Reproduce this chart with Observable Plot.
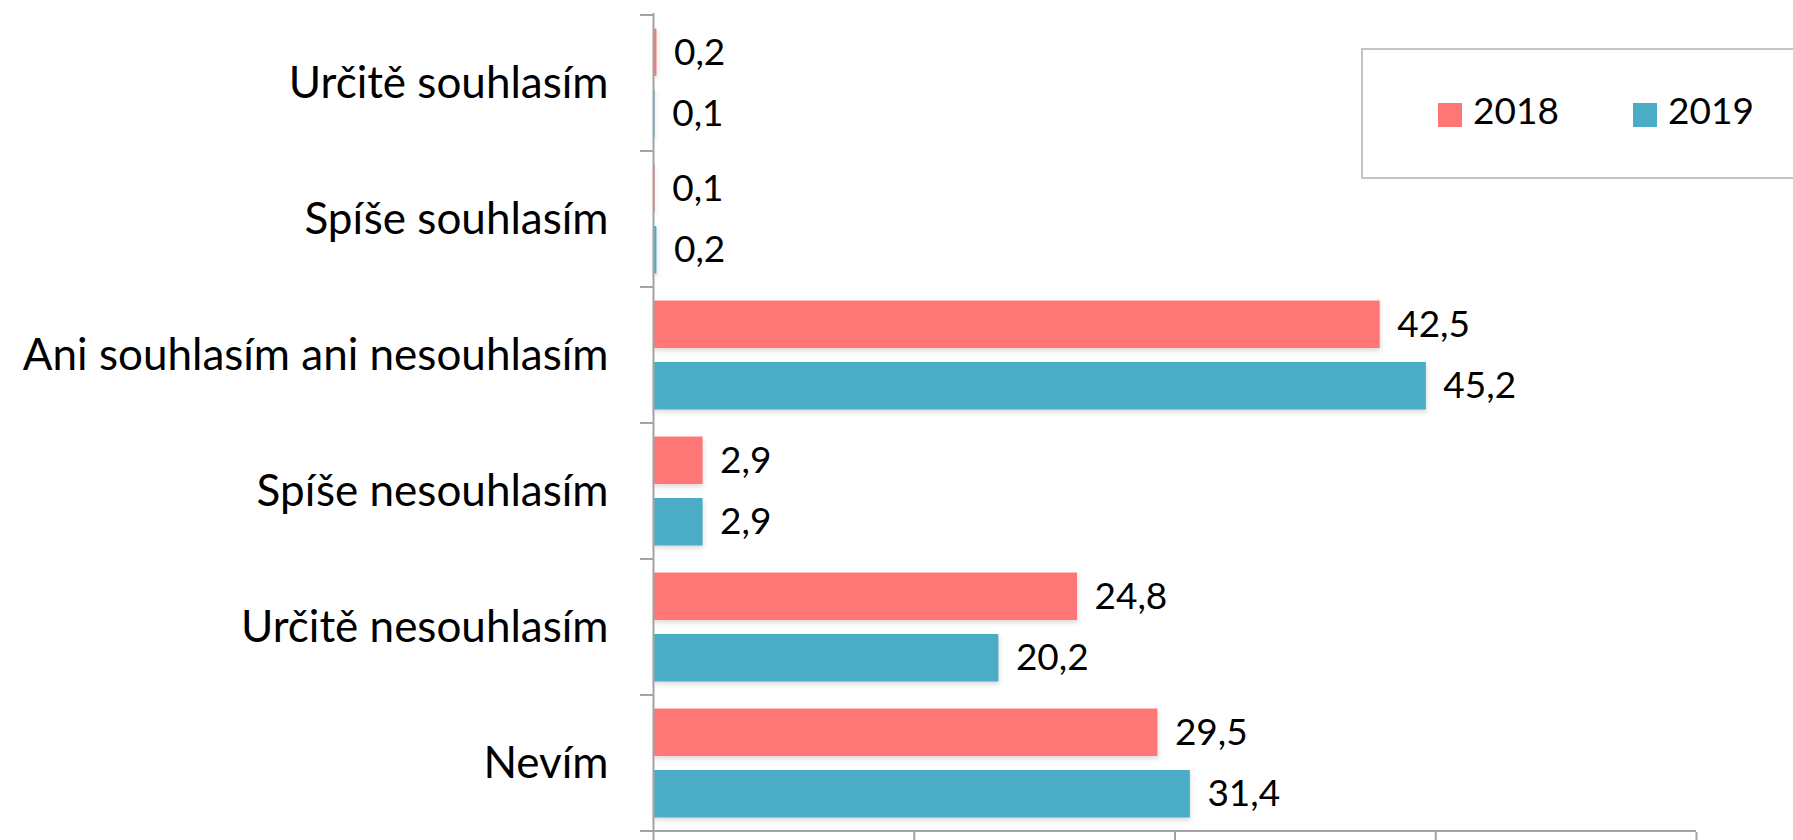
<!DOCTYPE html>
<html>
<head>
<meta charset="utf-8">
<script src="https://cdn.jsdelivr.net/npm/d3@7"></script>
<script src="https://cdn.jsdelivr.net/npm/@observablehq/plot@0.6"></script>
<style>
  body { margin: 0; background: #fff; }
  #wrap { position: relative; width: 1793px; height: 840px; overflow: hidden; }
  #legend { position: absolute; left: 1361px; top: 48px; width: 440px; height: 131px;
            border: 2px solid #c4c4c4; box-sizing: border-box; background: #fff;
            font-family: Lato, sans-serif; font-size: 37px; color: #000; }
  .sw { position: absolute; top: 53px; width: 24px; height: 24px; }
  .lab { position: absolute; top: 41px; line-height: 37px; }
</style>
</head>
<body>
<div id="wrap"></div>
<script>
const categories = ["Určitě souhlasím", "Spíše souhlasím", "Ani souhlasím ani nesouhlasím", "Spíše nesouhlasím", "Určitě nesouhlasím", "Nevím"];
const years = ["2018", "2019"];
const values2018 = [0.2, 0.1, 42.5, 2.9, 24.8, 29.5];
const values2019 = [0.1, 0.2, 45.2, 2.9, 20.2, 31.4];
const xTicks = [0, 15.25, 30.5, 45.75, 61];
const colors = ["#FF7676", "#4BACC6"];

const series = [values2018, values2019];
const data = years.flatMap((yr, j) => categories.map((c, i) => ({category: c, year: yr, value: series[j][i]})));

const W = 1793, H = 840, mT = 13, mB = 8, mL = 653, mR = 97;
const gray = "#a3a3a3";
const band = (H - mT - mB) / categories.length;
const inner = d3.scaleBand().domain(years).range([0, band]).padding(0.22);
const fmt = v => v.toFixed(1).replace(".", ",");

const barMarks = years.flatMap(yr => {
  const top = inner(yr), h = inner.bandwidth();
  const rows = data.filter(d => d.year === yr);
  return [
    Plot.barX(rows, {x: "value", y: "category", fill: "year", insetTop: top, insetBottom: band - top - h}),
    Plot.text(rows, {x: "value", y: "category", text: d => fmt(d.value), dy: top + h / 2 - band / 2, dx: 17,
                     textAnchor: "start", fontSize: 37, fill: "#000"})
  ];
});

const chart = Plot.plot({
  width: W, height: H, marginTop: mT, marginBottom: mB, marginLeft: mL, marginRight: mR,
  style: {fontFamily: "Lato, sans-serif", background: "white", overflow: "visible"},
  x: {domain: [0, xTicks[xTicks.length - 1]]},
  y: {domain: categories, padding: 0},
  color: {domain: years, range: colors},
  marks: [
    ...barMarks,
    Plot.ruleX([0], {stroke: gray, strokeWidth: 2}),
    Plot.axisX({ticks: xTicks, tickSize: 8, tickFormat: () => "", stroke: gray, strokeWidth: 2, label: null}),
    Plot.axisY({tickSize: 0, tickPadding: 45, fontSize: 44, fill: "#000", label: null})
  ]
});

const svg = d3.select(chart);
svg.selectAll('g[aria-label="bar"]').style("filter", "drop-shadow(1px 3px 2px rgba(0,0,0,0.13))");
const ys = chart.scale("y");
const xs = chart.scale("x");
const bounds = categories.map(c => ys.apply(c)).concat([ys.apply(categories[categories.length - 1]) + ys.bandwidth]);
const g = svg.append("g").attr("stroke", gray).attr("stroke-width", 2);
g.selectAll("line.b").data(bounds).join("line").attr("class", "b")
  .attr("x1", xs.apply(0) - 13).attr("x2", xs.apply(0)).attr("y1", d => d).attr("y2", d => d);
g.append("line").attr("x1", xs.apply(0) - 13).attr("x2", xs.apply(xTicks[xTicks.length - 1]))
  .attr("y1", bounds[bounds.length - 1]).attr("y2", bounds[bounds.length - 1]);

const wrap = document.getElementById("wrap");
wrap.appendChild(chart);

const legend = document.createElement("div");
legend.id = "legend";
const lx = [[75, 110], [270, 305]];
years.forEach((yr, j) => {
  const sw = document.createElement("span");
  sw.className = "sw"; sw.style.left = lx[j][0] + "px"; sw.style.background = colors[j];
  const t = document.createElement("span");
  t.className = "lab"; t.style.left = lx[j][1] + "px"; t.textContent = yr;
  legend.appendChild(sw); legend.appendChild(t);
});
wrap.appendChild(legend);
</script>
</body>
</html>
